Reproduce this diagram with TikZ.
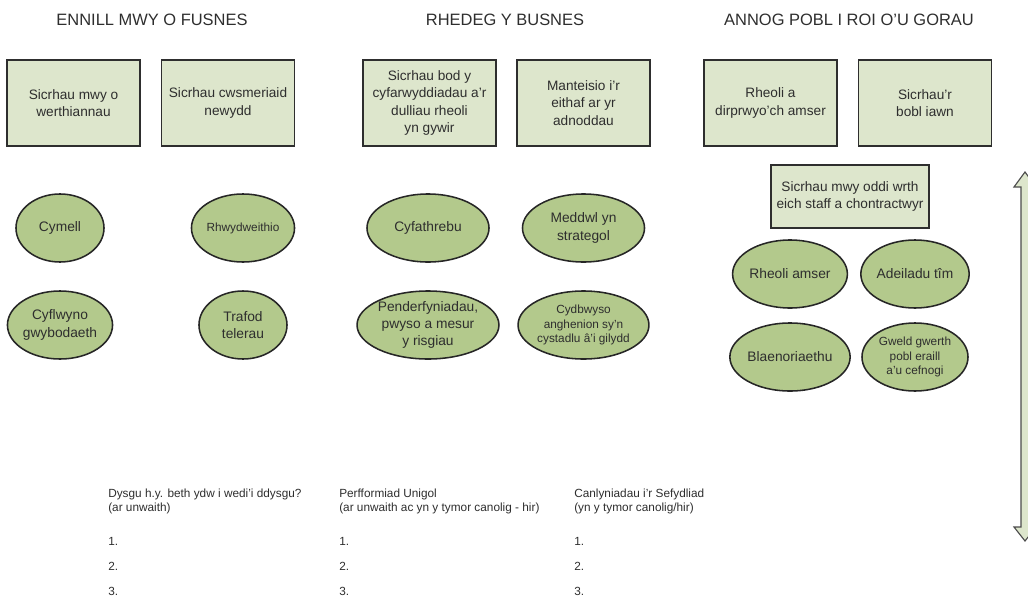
\documentclass[tikz,border=0pt]{standalone}
\usepackage{fontspec}
\setmainfont{Liberation Sans}
\usetikzlibrary{shapes.geometric}

\definecolor{boxfill}{HTML}{DDE6CC}
\definecolor{ovalfill}{HTML}{B3C98C}
\definecolor{inkgray}{HTML}{2E2E2E}

\tikzset{
	title/.style = {text = inkgray, font = \fontsize{11.7}{14}\selectfont},
	goalbox/.style = {draw = inkgray, line width = 1.1pt, fill = boxfill, text = inkgray,
		minimum width = 3.325cm, minimum height = 2.15cm, inner sep = 1pt, align = center,
		font = \fontsize{9.7}{12.4}\selectfont},
	skill/.style = {ellipse, draw = black!85, line width = 1.1pt, fill = ovalfill, text = inkgray,
		minimum width = #1, minimum height = 1.7cm, inner sep = 0pt, align = center,
		font = \fontsize{9.8}{12.2}\selectfont},
	skill/.default = 2.2cm,
	small/.style = {font = \fontsize{8.4}{10.4}\selectfont},
	note/.style = {text = inkgray, inner sep = 0pt, align = left,
		font = \fontsize{8.4}{10}\selectfont}
}

\begin{document}
\begin{tikzpicture}[x = 0.025cm, y = -0.025cm]
	\clip (0,0) rectangle (1028,599);
	\useasboundingbox (0,0) rectangle (1028,599);

	% column titles
	\node[title] (t-win) at (152, 20) {ENNILL MWY O FUSNES};
	\node[title] (t-run) at (505, 20) {RHEDEG Y BUSNES};
	\node[title] (t-people) at (849, 20) {ANNOG POBL I ROI O'U GORAU};

	% goal boxes
	\node[goalbox] (sales) at (73.5, 103) {Sicrhau mwy o\\werthiannau};
	\node[goalbox] (customers) at (228, 103) {Sicrhau cwsmeriaid\\newydd};
	\node[goalbox] (procedures) at (429.5, 103) {Sicrhau bod y\\cyfarwyddiadau a'r\\dulliau rheoli\\yn gywir};
	\node[goalbox] (resources) at (583.5, 103) {Manteisio i'r\\eithaf ar yr\\adnoddau};
	\node[goalbox] (delegate) at (770.5, 103) {Rheoli a\\dirprwyo'ch amser};
	\node[goalbox] (rightpeople) at (925, 103) {Sicrhau'r\\bobl iawn};
	\node[goalbox, minimum width = 3.95cm, minimum height = 1.575cm] (staff) at (850, 196.5)
		{Sicrhau mwy oddi wrth\\eich staff a chontractwyr};

	% skills, first column
	\node[skill] (persuade) at (60, 228) {Cymell};
	\node[skill] (present) at (60, 325) {Cyflwyno\\gwybodaeth};
	\node[skill, small] (network) at (243, 228) {Rhwydweithio};
	\node[skill] (negotiate) at (243, 325) {Trafod\\telerau};

	% skills, second column
	\node[skill = 3.05cm] (communicate) at (428, 228) {Cyfathrebu};
	\node[skill = 3.05cm] (decide) at (428, 325) {Penderfyniadau,\\pwyso a mesur\\y risgiau};
	\node[skill = 3.05cm] (strategy) at (583.5, 228) {Meddwl yn\\strategol};
	\node[skill = 3.05cm, small] (balance) at (583.5, 325) {Cydbwyso\\anghenion sy'n\\cystadlu â'i gilydd};

	% skills, third column
	\node[skill = 2.65cm] (time) at (790, 274) {Rheoli amser};
	\node[skill = 2.65cm] (team) at (915, 274) {Adeiladu tîm};
	\node[skill = 2.65cm] (priority) at (790, 357) {Blaenoriaethu};
	\node[skill = 2.65cm, small] (value) at (915, 357) {Gweld gwerth\\pobl eraill\\a'u cefnogi};

	% outcome columns
	\node[note, anchor = north west] (learning) at (108, 489) {Dysgu h.y. beth ydw i wedi'i ddysgu?\\(ar unwaith)};
	\node[note, anchor = north west] (individual) at (339, 489) {Perfformiad Unigol\\(ar unwaith ac yn y tymor canolig - hir)};
	\node[note, anchor = north west] (organisation) at (574, 489) {Canlyniadau i'r Sefydliad\\(yn y tymor canolig/hir)};
	\foreach \col/\x in {learning/108, individual/339, organisation/574} {
		\foreach \n/\y in {1/541, 2/566, 3/591} {
			\node[note, anchor = west] (\col-\n) at (\x, \y) {\n.};
		}
	}

	% double arrow at the right edge
	\draw[draw = black!70, line width = 0.8pt, fill = boxfill, line join = miter]
		(1025, 172) -- (1036, 187) -- (1029, 187) -- (1029, 527) -- (1036, 527)
		-- (1025, 541) -- (1014, 527) -- (1021, 527) -- (1021, 187) -- (1014, 187) -- cycle;
\end{tikzpicture}
\end{document}
